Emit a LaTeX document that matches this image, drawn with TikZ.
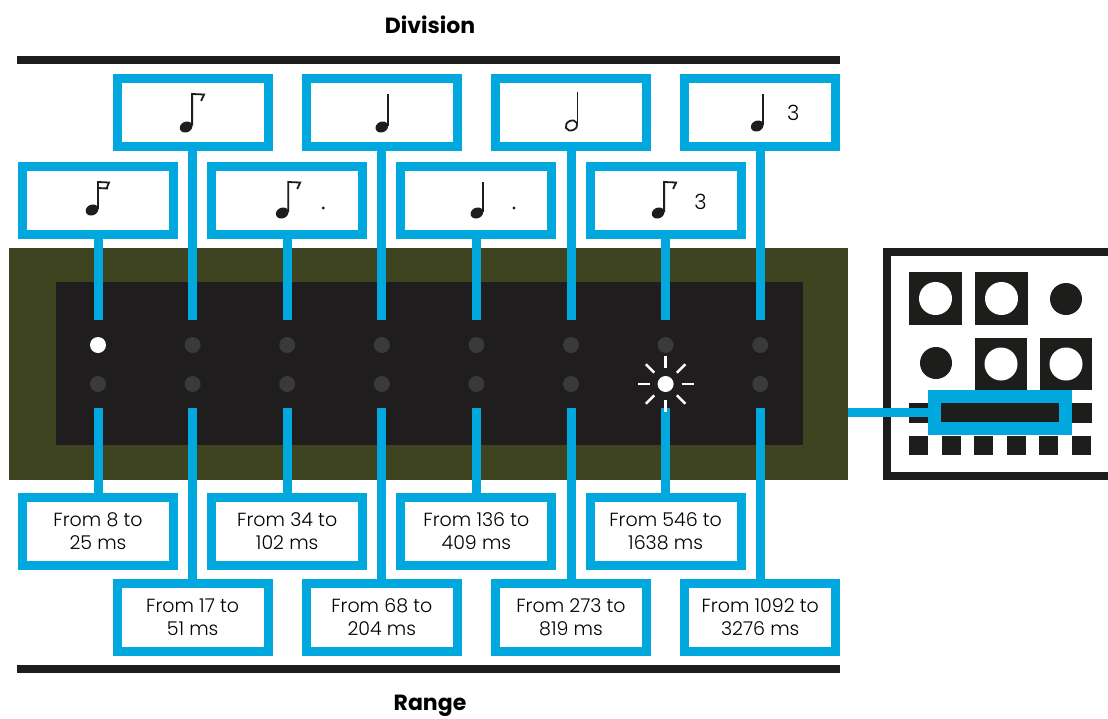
\documentclass[tikz,border=0pt]{standalone}
\usepackage{fontspec}
\setmainfont{Poppins}
\newfontfamily\thinfont{Poppins Light}
\usepackage{tikz}
\usetikzlibrary{positioning}
\definecolor{linkblue}{HTML}{00A8DE}
\definecolor{panelgreen}{HTML}{3E4320}
\definecolor{paneldark}{HTML}{1F1D1E}
\definecolor{ledoff}{HTML}{3A3A3A}
\definecolor{inkblack}{HTML}{1D1D1B}

\newcommand{\nhead}[1]{\fill[inkblack,rotate around={25:(#1)}] (#1) ellipse (6.5 and 5.3);}

\begin{document}
\begin{tikzpicture}[x=1pt,y=-1pt,
    valbox/.style={draw=linkblue,line width=9pt,fill=white,minimum width=151pt,
                   minimum height=68pt,inner sep=0pt,align=center,
                   font=\thinfont\fontsize{19}{23}\selectfont},
    link/.style={linkblue,line width=9pt},
    led/.style={circle,fill=#1,minimum size=16pt,inner sep=0pt},
    led/.default=ledoff,
    ray/.style={white,line width=2.5pt},
    bar/.style={inkblack,line width=8pt},
    title/.style={font=\bfseries\fontsize{22}{26}\selectfont},
    stem/.style={inkblack,line width=1.8pt,line join=miter},
    beat/.style={font=\thinfont\fontsize{21}{24}\selectfont,inner sep=0pt}
  ]
  \useasboundingbox (0,0) rectangle (1108,718);
  % bars and titles
  \draw[bar] (17,60) -- (840,60);
  \draw[bar] (17,669) -- (840,669);
  \node[title] (division) at (430,25) {Division};
  \node[title] (range) at (430,706) {Range};
  % display
  \node[fill=panelgreen,minimum width=839pt,minimum height=232pt,inner sep=0pt] (panel) at (428.5,364) {};
  \fill[paneldark] (56,282) rectangle (803,445);
  % boxes, connectors, leds
  \foreach \i/\rng/\ca/\cb in {1/{From 8 to\\25 ms}/white/ledoff,
      2/{From 17 to\\51 ms}/ledoff/ledoff,3/{From 34 to\\102 ms}/ledoff/ledoff,
      4/{From 68 to\\204 ms}/ledoff/ledoff,5/{From 136 to\\409 ms}/ledoff/ledoff,
      6/{From 273 to\\819 ms}/ledoff/ledoff,7/{From 546 to\\1638 ms}/ledoff/white,
      8/{From 1092 to\\3276 ms}/ledoff/ledoff}{
    \pgfmathsetmacro\cx{98+94.6*(\i-1)}
    \pgfmathsetmacro\ty{mod(\i,2)==1 ? 200 : 112.5}
    \pgfmathsetmacro\by{mod(\i,2)==1 ? 531 : 617.5}
    \node[valbox] (div\i) at (\cx,\ty) {};
    \node[valbox] (rng\i) at (\cx,\by) {\rng};
    \coordinate (top\i) at (\cx,320);
    \coordinate (bot\i) at (\cx,408);
    \draw[link] (div\i.south) -- (top\i);
    \draw[link] (bot\i) -- (rng\i.north);
    \node[led=\ca] (leda\i) at (\cx,345) {};
    \node[led=\cb] (ledb\i) at (\cx,384) {};
  }
  \foreach \a in {0,45,...,315}
    \draw[ray] (ledb7) ++(\a:16) -- ++(\a:12);
  % note symbols
  \begin{scope}[shift={(div1.center)}]
    \nhead{-6,10}
    \draw[stem] (0,9) -- (0,-18) -- ++(11,0.5) -- ++(-2.5,6);
    \draw[stem] (0,-12) -- ++(10,0.5);
  \end{scope}
  \begin{scope}[shift={(div2.center)}]
    \nhead{-6.5,14.5}
    \draw[stem] (-0.5,13) -- (-0.5,-18.5) -- ++(12,0.5) -- ++(-3,6.5);
  \end{scope}
  \begin{scope}[shift={(div3.center)}]
    \nhead{-5,13}
    \draw[stem] (1,12) -- (1,-18) -- ++(12,0.5) -- ++(-3,6.5);
    \fill[inkblack] (36,8) circle (1.6);
  \end{scope}
  \begin{scope}[shift={(div4.center)}]
    \nhead{0,14.5}
    \draw[stem] (6,13) -- (6,-19);
  \end{scope}
  \begin{scope}[shift={(div5.center)}]
    \nhead{0.5,13}
    \draw[stem] (6.5,12) -- (6.5,-18);
    \fill[inkblack] (37.5,8) circle (1.6);
  \end{scope}
  \begin{scope}[shift={(div6.center)}]
    \draw[inkblack,line width=1.8pt,rotate around={25:(0.5,13)}] (0.5,13) ellipse (6 and 4.8);
    \draw[stem] (6.5,12) -- (6.5,-20.5);
  \end{scope}
  \begin{scope}[shift={(div7.center)}]
    \nhead{-7.5,13}
    \draw[stem] (-1.5,12) -- (-1.5,-18) -- ++(12,0.5) -- ++(-3,6.5);
    \node[beat] (trip7) at (35,2) {3};
  \end{scope}
  \begin{scope}[shift={(div8.center)}]
    \nhead{-3,13.5}
    \draw[stem] (3,12.5) -- (3,-19);
    \node[beat] (trip8) at (33,0.5) {3};
  \end{scope}
  % pedal front
  \begin{scope}
    \clip (0,0) rectangle (1108,718);
    \draw[inkblack,line width=8pt] (887,252) rectangle (1130,476);
  \end{scope}
  \foreach \x in {909,975}{
    \fill[inkblack] (\x,272) rectangle ++(53,53);
    \fill[white] (\x+26.5,298.5) circle (16.5);
  }
  \fill[inkblack] (1066,299) circle (16);
  \fill[inkblack] (936,363) circle (16);
  \foreach \x in {975,1040}{
    \fill[inkblack] (\x,338) rectangle ++(52,52);
    \fill[white] (\x+26,364) circle (16.5);
  }
  \fill[inkblack] (909,403) rectangle (1092,423);
  \foreach \k in {0,...,5}
    \fill[inkblack] ({909+32.6*\k},436) rectangle ++(19,19);
  \node[draw=linkblue,line width=13pt,fill=inkblack,minimum width=131pt,
        minimum height=32pt,inner sep=0pt] (sel) at (1000,412.5) {};
  \draw[link] (panel.east |- sel.west) -- (sel.west);
\end{tikzpicture}
\end{document}
